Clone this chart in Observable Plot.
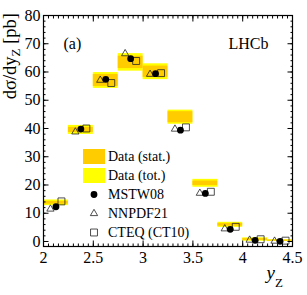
<!DOCTYPE html>
<html>
<head>
<meta charset="utf-8">
<script src="https://cdn.jsdelivr.net/npm/d3@7"></script>
<script src="https://cdn.jsdelivr.net/npm/@observablehq/plot@0.6"></script>
<style>
  body { margin: 0; background: #fff; }
  #wrap { position: relative; width: 307px; height: 295px; font-family: "Liberation Serif", "Times New Roman", serif; }
  #wrap svg text { font-family: "Liberation Serif", "Times New Roman", serif; }
  #legend { position: absolute; left: 83px; top: 147px; font-size: 14px; color: #000; }
  #legend .row { height: 19px; display: flex; align-items: center; }
  #legend .sw { width: 22px; height: 15px; margin-right: 3px; }
  #legend svg { margin-right: 3px; }
</style>
</head>
<body>
<div id="wrap"></div>
<script>
// Bins in Z rapidity
const binLo = [2.0, 2.25, 2.5, 2.75, 3.0, 3.25, 3.5, 3.75, 4.0, 4.25];
const binHi = [2.25, 2.5, 2.75, 3.0, 3.25, 3.5, 3.75, 4.0, 4.25, 4.5];
// Measured dσ/dy [pb]
const dataVal = [13.7, 39.5, 57.0, 63.4, 60.1, 44.0, 20.6, 5.9, 0.7, 0.3];
const statErr = [0.5, 0.9, 2.1, 2.2, 2.0, 1.95, 0.8, 0.5, 0.3, 0.2];
const totErr  = [1.0, 1.6, 2.8, 3.1, 2.8, 2.5, 1.4, 0.9, 0.6, 0.3];
// Theory predictions
const mstw  = [12.3, 39.8, 57.4, 64.7, 59.4, 39.4, 17.0, 4.3, 0.4, 0.05];
const nnpdf = [11.5, 38.8, 57.1, 66.5, 59.2, 39.8, 17.1, 4.5, 0.5, 0.15];
const cteq  = [14.2, 40.0, 56.1, 63.9, 59.6, 40.4, 17.6, 5.2, 0.8, 0.3];
// Ticks
const xMajor = [2, 2.5, 3, 3.5, 4, 4.5];
const yMajor = [0, 10, 20, 30, 40, 50, 60, 70, 80];
const xMinor = d3.range(0, 51).map(i => 2 + i * 0.05);
const yMinor = d3.range(0, 41).map(i => i * 2);

const bins = binLo.map((lo, i) => ({
  lo, hi: binHi[i], c: (lo + binHi[i]) / 2,
  v: dataVal[i], stat: statErr[i], tot: totErr[i],
  mstw: mstw[i], nnpdf: nnpdf[i], cteq: cteq[i]
}));

const font = '"Liberation Serif", "Times New Roman", serif';
const chart = Plot.plot({
  width: 307, height: 295,
  marginLeft: 43, marginRight: 15, marginTop: 15, marginBottom: 49,
  style: { fontFamily: font, background: "white", color: "black" },
  x: { domain: [2, 4.5], label: null },
  y: { domain: [-1.77, 80], label: null },
  marks: [
    Plot.rect(bins, { x1: "lo", x2: "hi", y1: d => d.v - d.tot, y2: d => d.v + d.tot, fill: "#ffff00" }),
    Plot.rect(bins, { x1: "lo", x2: "hi", y1: d => d.v - d.stat, y2: d => d.v + d.stat, fill: "#ffcc00" }),
    Plot.dot(bins, { x: "c", y: "nnpdf", symbol: "triangle", r: 2.7, stroke: "#222", strokeWidth: 0.8, fill: "none", dx: -5.5 }),
    Plot.dot(bins, { x: "c", y: "cteq", symbol: "square", r: 3.9, stroke: "#222", strokeWidth: 0.8, fill: "none", dx: 5.5 }),
    Plot.dot(bins, { x: "c", y: "mstw", r: 3.4, fill: "black", stroke: "none" }),
    // inward ticks
    Plot.axisX(xMinor, { anchor: "bottom", tickSize: -2.5, tickFormat: () => "", label: null }),
    Plot.axisX(xMajor, { anchor: "bottom", tickSize: -5.5, tickFormat: () => "", label: null }),
    Plot.axisX(xMinor, { anchor: "top", tickSize: -2.5, tickFormat: () => "", label: null }),
    Plot.axisX(xMajor, { anchor: "top", tickSize: -5.5, tickFormat: () => "", label: null }),
    Plot.axisY(yMinor, { anchor: "left", tickSize: -2.5, tickFormat: () => "", label: null }),
    Plot.axisY(yMajor, { anchor: "left", tickSize: -5.5, tickFormat: () => "", label: null }),
    Plot.axisY(yMinor, { anchor: "right", tickSize: -2.5, tickFormat: () => "", label: null }),
    Plot.axisY(yMajor, { anchor: "right", tickSize: -5.5, tickFormat: () => "", label: null }),
    // tick labels
    Plot.axisX(xMajor, { anchor: "bottom", tickSize: 0, tickPadding: 5, fontSize: 16, tickFormat: d => String(d), label: null }),
    Plot.axisY(yMajor, { anchor: "left", tickSize: 0, tickPadding: 3, fontSize: 16, tickFormat: d => String(d), label: null }),
    Plot.frame({ stroke: "black", strokeWidth: 1.2 }),
    Plot.text(["(a)"], { frameAnchor: "top-left", textAnchor: "start", lineAnchor: "middle", dx: 20, dy: 28, fontSize: 16 }),
    Plot.text(["LHCb"], { frameAnchor: "top-right", textAnchor: "end", lineAnchor: "middle", dx: -24, dy: 28, fontSize: 16 })
  ]
});

const wrap = document.getElementById("wrap");
wrap.appendChild(chart);

// Axis titles with subscripts
const svg = d3.select(chart);
const yt = svg.append("text")
  .attr("transform", "translate(16,13) rotate(-90)")
  .attr("text-anchor", "end")
  .attr("font-family", font)
  .attr("font-size", 18.5)
  .attr("fill", "black");
yt.append("tspan").text("dσ/dy");
yt.append("tspan").attr("font-size", 13).attr("dy", 4).text("Z");
yt.append("tspan").attr("dy", -4).text(" [pb]");

const xt = svg.append("text")
  .attr("x", 283).attr("y", 279)
  .attr("text-anchor", "end")
  .attr("font-family", font)
  .attr("font-size", 19)
  .attr("fill", "black");
xt.append("tspan").attr("font-style", "italic").text("y");
xt.append("tspan").attr("font-size", 13).attr("dy", 8).text("Z");

// Legend
const legend = document.createElement("div");
legend.id = "legend";
const items = [
  { kind: "box", color: "#ffcc00", label: "Data (stat.)" },
  { kind: "box", color: "#ffff00", label: "Data (tot.)" },
  { kind: "circle", label: "MSTW08" },
  { kind: "triangle", label: "NNPDF21" },
  { kind: "square", label: "CTEQ (CT10)" }
];
for (const it of items) {
  const row = document.createElement("div");
  row.className = "row";
  if (it.kind === "box") {
    const sw = document.createElement("div");
    sw.className = "sw";
    sw.style.background = it.color;
    row.appendChild(sw);
  } else {
    const ns = "http://www.w3.org/2000/svg";
    const s = document.createElementNS(ns, "svg");
    s.setAttribute("width", 22); s.setAttribute("height", 15);
    const p = document.createElementNS(ns, "path");
    const sym = it.kind === "circle" ? d3.symbolCircle : it.kind === "triangle" ? d3.symbolTriangle : d3.symbolSquare;
    const r = it.kind === "circle" ? 3.4 : it.kind === "triangle" ? 2.7 : 3.9;
    p.setAttribute("d", d3.symbol(sym, Math.PI * r * r)());
    p.setAttribute("transform", "translate(11,7.5)");
    if (it.kind === "circle") { p.setAttribute("fill", "black"); }
    else { p.setAttribute("fill", "none"); p.setAttribute("stroke", "#222"); p.setAttribute("stroke-width", 0.8); }
    s.appendChild(p);
    row.appendChild(s);
  }
  const t = document.createElement("span");
  t.textContent = it.label;
  row.appendChild(t);
  legend.appendChild(row);
}
wrap.appendChild(legend);
</script>
</body>
</html>
